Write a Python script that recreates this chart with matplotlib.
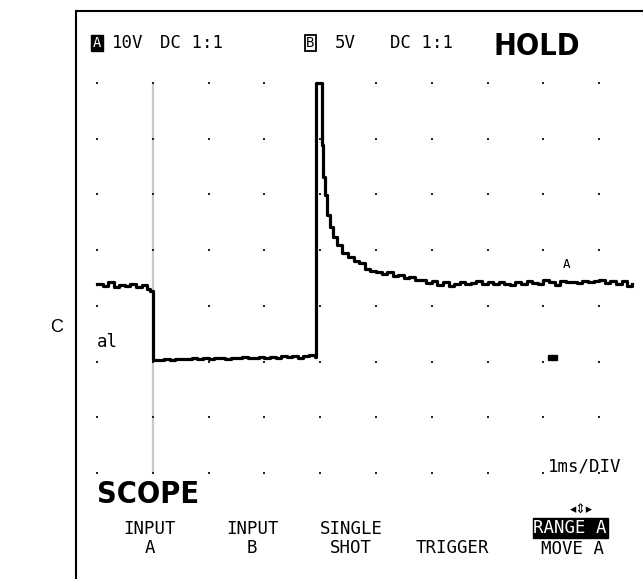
import matplotlib
matplotlib.use("Agg")
import matplotlib.pyplot as plt
from matplotlib.patches import Rectangle

# trace of channel A, in screen divisions (x: 1ms/div, y: divisions from bottom dot row)
pre_x = [0.0, 0.1, 0.2, 0.3, 0.4, 0.5, 0.6, 0.7, 0.8, 0.9, 0.95]
pre_y = [3.40, 3.36, 3.42, 3.33, 3.38, 3.35, 3.39, 3.34, 3.37, 3.31, 3.27]

low_x = [1.0, 1.1, 1.2, 1.3, 1.4, 1.5, 1.6, 1.7, 1.8, 1.9, 2.0, 2.1, 2.2, 2.3, 2.4,
         2.5, 2.6, 2.7, 2.8, 2.9, 3.0, 3.1, 3.2, 3.3, 3.4, 3.5, 3.6, 3.7, 3.8, 3.9]
low_y = [2.02, 2.03, 2.04, 2.03, 2.05, 2.04, 2.05, 2.06, 2.04, 2.06, 2.05, 2.07, 2.06,
         2.05, 2.07, 2.06, 2.08, 2.06, 2.07, 2.08, 2.06, 2.08, 2.07, 2.09, 2.08, 2.10,
         2.07, 2.09, 2.11, 2.08]

spike_x = [3.92, 4.03, 4.05, 4.09, 4.12, 4.18, 4.23, 4.30, 4.39, 4.50, 4.60, 4.70, 4.80,
           4.90, 5.00, 5.10, 5.20, 5.30, 5.40, 5.50, 5.60, 5.70, 5.80, 5.90, 6.00, 6.10,
           6.20, 6.30, 6.40, 6.50, 6.60, 6.70, 6.80, 6.90, 7.00, 7.10, 7.20, 7.30, 7.40,
           7.50, 7.60, 7.70, 7.80, 7.90, 8.00, 8.10, 8.20, 8.30, 8.40, 8.50, 8.60, 8.70,
           8.80, 8.90, 9.00, 9.10, 9.20, 9.30, 9.40, 9.50, 9.58]
spike_y = [7.00, 5.89, 5.31, 4.99, 4.63, 4.41, 4.24, 4.09, 3.95, 3.88, 3.80, 3.76, 3.66,
           3.63, 3.60, 3.58, 3.61, 3.54, 3.55, 3.50, 3.52, 3.47, 3.46, 3.41, 3.44, 3.38,
           3.42, 3.36, 3.40, 3.43, 3.39, 3.41, 3.44, 3.40, 3.42, 3.39, 3.43, 3.40, 3.38,
           3.42, 3.40, 3.44, 3.41, 3.39, 3.47, 3.43, 3.37, 3.45, 3.42, 3.43, 3.41, 3.45,
           3.42, 3.44, 3.46, 3.41, 3.44, 3.39, 3.45, 3.36, 3.40]

grid_cols = list(range(10))
grid_rows = list(range(8))
cursor_x = 1.0

softkeys = ["INPUT\nA", "INPUT\nB", "SINGLE\nSHOT", "\nTRIGGER"]
softkey_x = [0.95, 2.78, 4.55, 6.36]

mono = "DejaVu Sans Mono"
fs = 12.5
narrow = ["Liberation Sans Narrow", "DejaVu Sans"]

fig = plt.figure(figsize=(6.43, 5.79), dpi=100)
ax = fig.add_axes([76 / 643, 0, 567 / 643, 568 / 579])
ax.set_xlim(-0.376, 9.785)
ax.set_ylim(-1.905, 8.293)
ax.set_xticks([])
ax.set_yticks([])
ax.spines["right"].set_visible(False)
ax.spines["bottom"].set_visible(False)
ax.spines["left"].set_linewidth(1.5)
ax.spines["top"].set_linewidth(1.5)

# dot grid (drawn over the cursor line)
gx = [c for c in grid_cols for r in grid_rows]
gy = [r for c in grid_cols for r in grid_rows]
ax.scatter(gx, gy, marker="s", s=4, color="#222222", linewidths=0, zorder=2.5)

# cursor line
ax.plot([cursor_x, cursor_x], [0, 7], color="#c8c8c8", lw=1.6, zorder=2)

# trace
tx = pre_x + low_x + spike_x
ty = pre_y + low_y + spike_y
ax.plot(tx, ty, drawstyle="steps-post", color="black", lw=2.3, zorder=3)

# trace identifier and small marker
ax.text(8.42, 3.62, "A", fontsize=9, family=mono, ha="center", va="bottom", color="black",
        zorder=4)
ax.add_patch(Rectangle((8.08, 2.02), 0.16, 0.1, color="black"))

# header
top_y = 7.72
ax.text(0.0, top_y, "A", fontsize=10, family=mono, color="white", ha="center", va="center",
        bbox=dict(boxstyle="square,pad=0.1", fc="black", ec="black"))
ax.text(0.27, top_y, "10V", fontsize=fs, family=mono, ha="left", va="center")
ax.text(1.13, top_y, "DC 1:1", fontsize=fs, family=mono, ha="left", va="center")
ax.text(3.82, top_y, "B", fontsize=10, family=mono, ha="center", va="center",
        bbox=dict(boxstyle="square,pad=0.1", fc="white", ec="black", lw=1.3))
ax.text(4.27, top_y, "5V", fontsize=fs, family=mono, ha="left", va="center")
ax.text(5.25, top_y, "DC 1:1", fontsize=fs, family=mono, ha="left", va="center")
ax.text(8.66, 7.66, "HOLD", fontsize=22, family=narrow, fontstretch="condensed",
        weight="bold", ha="right", va="center")

ax.text(0.0, 2.35, "al", fontsize=fs, family=mono, ha="left", va="center")
ax.text(8.08, 0.12, "1ms/DIV", fontsize=fs, family=mono, ha="left", va="center")

# footer
ax.text(0.0, -0.38, "SCOPE", fontsize=22, family=narrow, fontstretch="condensed",
        weight="bold", ha="left", va="center")
ax.text(8.69, -0.66, "\u25c2\u21d5\u25b8", fontsize=9, family="DejaVu Sans", ha="center", va="center")
for lab, x in zip(softkeys, softkey_x):
    ax.text(x, -1.18, lab, fontsize=fs, family=mono, ha="center", va="center", linespacing=1.05)
ax.text(8.48, -0.99, "RANGE A", fontsize=fs, family=mono, color="white", ha="center", va="center",
        bbox=dict(boxstyle="square,pad=0.05", fc="black", ec="black"))
ax.text(8.53, -1.37, "MOVE A", fontsize=fs, family=mono, ha="center", va="center")

fig.text(57 / 643, 1 - 328 / 579, "C", fontsize=13, family="Liberation Sans", ha="center", va="center")

fig.savefig("out.png", dpi=100)
